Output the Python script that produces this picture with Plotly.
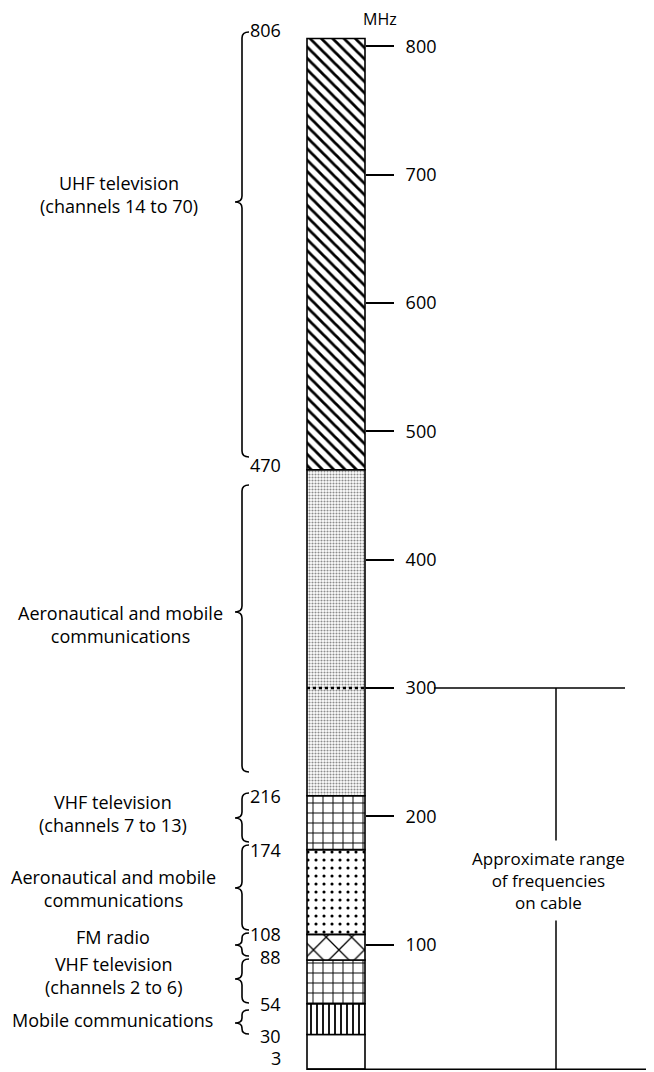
import plotly.graph_objects as go

# ---- data ----
band_low = [3, 30, 54, 88, 108, 174, 216, 470]
band_high = [30, 54, 88, 108, 174, 216, 470, 806]
band_pattern = ["", "|", "+", "x", ".", "+", ".", "\\"]
tick_values = [100, 200, 300, 400, 500, 600, 700, 800]
boundary_labels = ["806", "470", "216", "174", "108", "88", "54", "30", "3"]
boundary_values = [806, 470, 216, 174, 108, 88, 54, 30, 3]
service_labels = [
    "UHF television<br>(channels 14 to 70)",
    "Aeronautical and mobile<br>communications",
    "VHF television<br>(channels 7 to 13)",
    "Aeronautical and mobile<br>communications",
    "FM radio",
    "VHF television<br>(channels 2 to 6)",
    "Mobile communications",
]
cable_range = [3, 300]
cable_label = "Approximate range<br>of frequencies<br>on cable"

# ---- page geometry (page pixels; the html body adds an 8 px offset) ----
PAGE_W, PAGE_H = 654, 1072
OFF = 8
FIG_W, FIG_H = PAGE_W - OFF, PAGE_H - OFF
Y0, SCALE = 1073.0, 1.2835          # page px row of 0 MHz, px per MHz


def m(py):
    """page pixel row -> MHz (y axis units)"""
    return (Y0 - py) / SCALE


FONT = "'Open Sans', Lato, sans-serif"
FS = 18
BAR_X, BAR_W = 336, 58
BAR_L, BAR_R = BAR_X - BAR_W / 2, BAR_X + BAR_W / 2

pat_size = {"": 8, "|": 6, "+": 10, "x": 18, ".": 8, "\\": 8}
pat_sol = {"": 0.0, "|": 0.3, "+": 0.18, "x": 0.14, ".": 0.12, "\\": 0.35}
p_size, p_sol, p_fg = [], [], []
for lo, s in zip(band_low, band_pattern):
    if lo == 216:                   # fine grey stipple
        p_size.append(3); p_sol.append(0.4); p_fg.append("#8c8c8c")
    else:
        p_size.append(pat_size[s]); p_sol.append(pat_sol[s]); p_fg.append("black")

fig = go.Figure()
fig.add_trace(go.Bar(
    x=[BAR_X] * len(band_low),
    y=[h - l for l, h in zip(band_low, band_high)],
    base=band_low,
    width=BAR_W,
    marker=dict(
        color="white",
        line=dict(color="black", width=1.6),
        pattern=dict(shape=band_pattern, size=p_size, solidity=p_sol,
                     fgcolor=p_fg, bgcolor="white", fillmode="replace"),
    ),
    hoverinfo="skip",
    showlegend=False,
))

shapes = []
ann = []

# braces (page pixel rows: top, tip, bottom)
brace_spans = [(32, 202, 457), (485, 612, 772), (793, 818, 842), (845, 888, 930),
               (933, 945, 956), (959, 979, 1003), (1010, 1023, 1034)]
BX, BW = 242, 7
for (yt, ym, yb) in brace_spans:
    d = min(6, (ym - yt) / 2.2, (yb - ym) / 2.2)
    pts = [
        f"M {BX + BW},{m(yt)}",
        f"Q {BX},{m(yt)} {BX},{m(yt + d)}",
        f"L {BX},{m(ym - d)}",
        f"Q {BX},{m(ym)} {BX - BW},{m(ym)}",
        f"Q {BX},{m(ym)} {BX},{m(ym + d)}",
        f"L {BX},{m(yb - d)}",
        f"Q {BX},{m(yb)} {BX + BW},{m(yb)}",
    ]
    shapes.append(dict(type="path", xref="x", yref="y", path=" ".join(pts),
                       line=dict(color="black", width=1.6)))

# service labels
label_pos = [(119, 194), (120, 624), (113, 813), (113, 888), (113, 937), (113, 975), (112, 1020)]
for txt, (px, py) in zip(service_labels, label_pos):
    ann.append(dict(x=px, y=m(py), xref="x", yref="y", text=txt, showarrow=False,
                    xanchor="center", yanchor="middle", align="center",
                    font=dict(family=FONT, size=FS, color="black")))

# boundary numbers
shifts = {806: 9, 470: 5, 88: 3, 30: -2, 3: 11}
for txt, v in zip(boundary_labels, boundary_values):
    ann.append(dict(x=283, y=v, xref="x", yref="y", text=txt, showarrow=False,
                    xanchor="right", yanchor="middle", yshift=shifts.get(v, 0),
                    font=dict(family=FONT, size=FS, color="black")))

# MHz label
ann.append(dict(x=380, y=m(19), xref="x", yref="y", text="MHz", showarrow=False,
                xanchor="center", yanchor="middle",
                font=dict(family=FONT, size=FS - 2, color="black")))

# 300 MHz line and cable bracket
top_c, bot_c = cable_range[1], cable_range[0]
shapes.append(dict(type="line", xref="x", yref="y", x0=BAR_L, x1=BAR_R, y0=top_c, y1=top_c,
                   line=dict(color="black", width=2.5, dash="dot")))
shapes.append(dict(type="line", xref="x", yref="y", x0=BAR_R, x1=393, y0=top_c, y1=top_c,
                   line=dict(color="black", width=1.5)))
shapes.append(dict(type="line", xref="x", yref="y", x0=434, x1=625, y0=top_c, y1=top_c,
                   line=dict(color="black", width=1.5)))
shapes.append(dict(type="line", xref="x", yref="y", x0=BAR_L, x1=650, y0=bot_c, y1=bot_c,
                   line=dict(color="black", width=1.5)))
shapes.append(dict(type="line", xref="x", yref="y", x0=556, x1=556, y0=bot_c, y1=top_c,
                   line=dict(color="black", width=1.5)))
ann.append(dict(x=548, y=m(880), xref="x", yref="y", text=cable_label, showarrow=False,
                xanchor="center", yanchor="middle", align="center", bgcolor="white",
                borderpad=6,
                font=dict(family=FONT, size=FS - 1, color="black")))

fig.update_layout(
    width=FIG_W, height=FIG_H,
    margin=dict(l=0, r=0, t=0, b=0),
    paper_bgcolor="white", plot_bgcolor="white",
    barmode="overlay",
    shapes=shapes, annotations=ann,
    xaxis=dict(range=[OFF, PAGE_W], visible=False, fixedrange=True),
    yaxis=dict(range=[m(PAGE_H), m(OFF)], anchor="free",
               position=(BAR_R - OFF) / FIG_W, side="right",
               tickvals=tick_values, ticks="outside", ticklen=28, tickwidth=1.5,
               tickcolor="black", showgrid=False, zeroline=False, showline=False,
               ticklabelstandoff=8,
               tickfont=dict(family=FONT, size=FS, color="black")),
    showlegend=False,
)

fig.write_html("out.html")
